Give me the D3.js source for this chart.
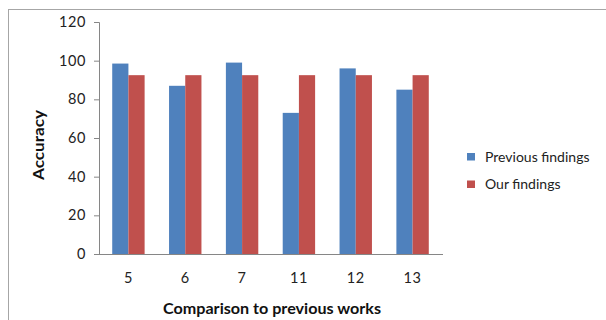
<!DOCTYPE html>
<html>
<head>
<meta charset="utf-8">
<script src="https://cdn.jsdelivr.net/npm/d3@7"></script>
<style>
  html, body { margin: 0; padding: 0; background: #fff; }
  svg { display: block; font-family: Lato, "Open Sans", sans-serif; }
</style>
</head>
<body>
<svg id="chart" width="606" height="320"></svg>
<script>
// Works being compared and their reported accuracy
const categories = ["5", "6", "7", "11", "12", "13"];
const previousFindings = [98.5, 87, 99, 73, 96, 85];
const ourFindings = [92.5, 92.5, 92.5, 92.5, 92.5, 92.5];
const seriesNames = ["Previous findings", "Our findings"];
const seriesColors = ["#4F81BD", "#C0504D"];
const yTicks = [0, 20, 40, 60, 80, 100, 120];

const svg = d3.select("#chart");

// outer chart frame
svg.append("rect")
  .attr("x", 8.5).attr("y", 9.5)
  .attr("width", 640).attr("height", 340)
  .attr("fill", "#fff").attr("stroke", "#a6a6a6");

const plot = { left: 100, right: 441, top: 22, bottom: 254 };

const x0 = d3.scaleBand().domain(categories).range([plot.left, plot.right]).paddingInner(0.43).paddingOuter(0.215);
const x1 = d3.scaleBand().domain(seriesNames).range([0, x0.bandwidth()]);
const y = d3.scaleLinear().domain([0, 120]).range([plot.bottom, plot.top]);

const rows = categories.map((c, i) => ({ cat: c, values: [previousFindings[i], ourFindings[i]] }));

// bars
const groups = svg.append("g").selectAll("g").data(rows).join("g")
  .attr("transform", d => `translate(${x0(d.cat)},0)`);
groups.selectAll("rect").data(d => d.values.map((v, j) => ({ v, j })))
  .join("rect")
  .attr("x", d => x1(seriesNames[d.j]))
  .attr("width", x1.bandwidth())
  .attr("y", d => y(d.v))
  .attr("height", d => y(0) - y(d.v))
  .attr("fill", d => seriesColors[d.j]);

// y axis
const yAxis = svg.append("g").attr("transform", `translate(${plot.left - 1},0)`)
  .call(d3.axisLeft(y).tickValues(yTicks).tickSize(5).tickPadding(8));
yAxis.select(".domain").attr("stroke", "#868686");
yAxis.selectAll(".tick line").attr("stroke", "#868686");
yAxis.selectAll("text").attr("font-size", 14.5).attr("fill", "#222")
  .attr("font-family", "Lato, sans-serif").attr("letter-spacing", 0.6);

// x axis
const xAxis = svg.append("g").attr("transform", `translate(0,${plot.bottom})`)
  .call(d3.axisBottom(x0).tickSize(0).tickPadding(19).tickSizeOuter(0));
xAxis.select(".domain").attr("stroke", "#868686").attr("d", `M${plot.left - 1},0.5H${plot.right + 2}`);
xAxis.selectAll("text").attr("font-size", 14.5).attr("fill", "#222")
  .attr("font-family", "Lato, sans-serif").attr("letter-spacing", 0.6);

// axis titles
svg.append("text")
  .attr("transform", `translate(44,145) rotate(-90)`)
  .attr("text-anchor", "middle")
  .attr("font-size", 14.5).attr("font-weight", "bold").attr("fill", "#111")
  .attr("textLength", 70).attr("lengthAdjust", "spacingAndGlyphs")
  .text("Accuracy");

svg.append("text")
  .attr("x", 272).attr("y", 314)
  .attr("text-anchor", "middle")
  .attr("font-size", 14.5).attr("font-weight", "bold").attr("fill", "#111")
  .attr("textLength", 218).attr("lengthAdjust", "spacingAndGlyphs")
  .text("Comparison to previous works");

// legend
const legend = svg.append("g").attr("transform", "translate(467,153)");
const items = legend.selectAll("g").data(seriesNames).join("g")
  .attr("transform", (d, i) => `translate(0,${i * 27.5})`);
items.append("rect").attr("width", 8).attr("height", 7.5)
  .attr("fill", (d, i) => seriesColors[i]);
items.append("text").attr("x", 18).attr("y", 8.5)
  .attr("font-size", 14).attr("fill", "#222")
  .text(d => d);
</script>
</body>
</html>
